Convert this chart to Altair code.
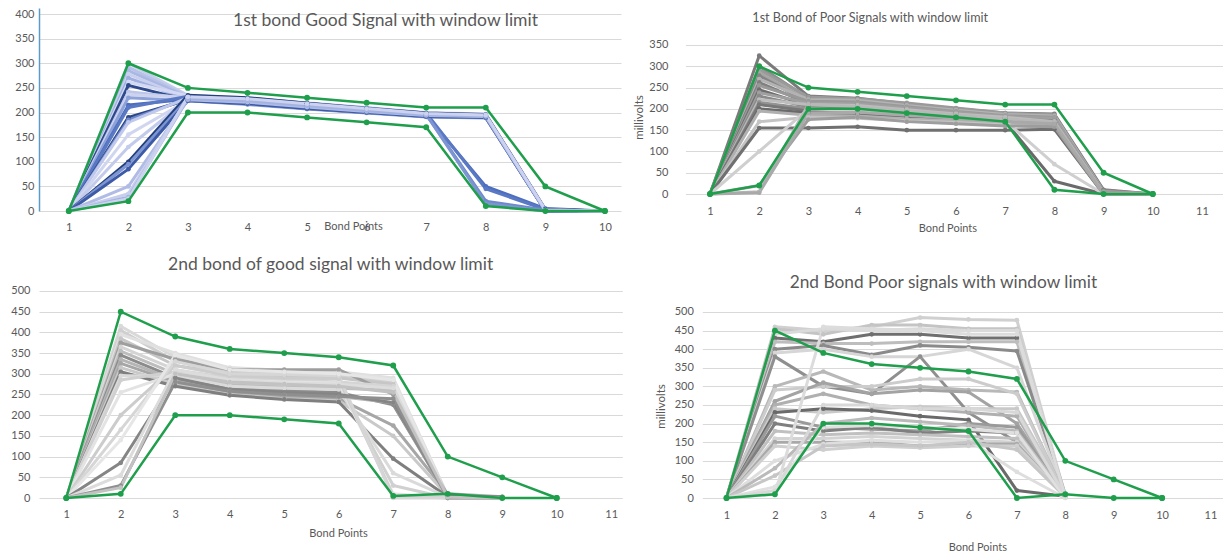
import altair as alt
import pandas as pd

FONT = "Lato"
TXT = "#595959"
GRID = "#d9d9d9"
GREEN = "#1f9e4c"

# ---------------- Panel 1 : 1st bond good signal (blue) ----------------
P1_TITLE = "1st bond Good Signal with window limit"
P1_UPPER = [0, 300, 250, 240, 230, 220, 210, 210, 50, 0]
P1_LOWER = [0, 20, 200, 200, 190, 180, 170, 10, 0, 0]
P1_SERIES = [
    [0, 300, 235, 228, 218, 208, 198, 195, 3, 0],
    [0, 292, 232, 226, 215, 205, 196, 193, 2, 0],
    [0, 285, 230, 224, 214, 204, 195, 192, 2, 0],
    [0, 278, 228, 222, 212, 203, 194, 190, 1, 0],
    [0, 270, 226, 220, 210, 202, 193, 191, 0, 0],
    [0, 262, 234, 230, 220, 210, 200, 197, 4, 0],
    [0, 255, 225, 218, 208, 200, 192, 190, 0, 0],
    [0, 242, 229, 225, 216, 206, 197, 194, 2, 0],
    [0, 236, 231, 227, 217, 207, 198, 196, 3, 0],
    [0, 230, 224, 216, 207, 199, 191, 189, 0, 0],
    [0, 215, 227, 223, 213, 204, 195, 50, 5, 0],
    [0, 210, 233, 229, 219, 209, 199, 45, 3, 0],
    [0, 190, 226, 221, 211, 203, 194, 193, 1, 0],
    [0, 185, 228, 224, 214, 205, 196, 20, 2, 0],
    [0, 180, 230, 226, 216, 206, 197, 195, 2, 0],
    [0, 155, 225, 219, 209, 201, 193, 191, 0, 0],
    [0, 130, 227, 222, 212, 203, 195, 192, 1, 0],
    [0, 100, 235, 230, 219, 208, 199, 196, 3, 0],
    [0, 95, 229, 225, 215, 205, 196, 15, 0, 0],
    [0, 85, 224, 218, 208, 200, 192, 190, 0, 0],
    [0, 50, 226, 221, 211, 202, 194, 192, 1, 0],
    [0, 35, 231, 226, 216, 206, 197, 194, 2, 0],
    [0, 28, 228, 224, 214, 204, 195, 193, 1, 0],
    [0, 25, 232, 228, 218, 208, 198, 195, 2, 0],
]
P1_COLORS = [
    "#c5cdec", "#b7c2e8", "#aab7e3", "#c9d0ee", "#9fb0e0", "#d3d9f2",
    "#2e4a8c", "#bcc6ea", "#cdd3ef", "#8da2d9", "#4d6dbd", "#5a79c4",
    "#2b4685", "#6f89cc", "#c0c9eb", "#d0d6f0", "#c3cbec", "#24407c",
    "#7d95d2", "#3d5aa6", "#b0bce5", "#c7cfed", "#a3b3e1", "#ccd2ef",
]

# ---------------- Panel 2 : 1st bond poor signals (grey) ----------------
P2_TITLE = "1st Bond of Poor  Signals with window limit"
P2_UPPER = [0, 300, 250, 240, 230, 220, 210, 210, 50, 0]
P2_LOWER = [0, 20, 200, 200, 190, 180, 170, 10, 0, 0]
P2_SERIES = [
    [0, 325, 230, 225, 212, 200, 190, 188, 10, 0],
    [0, 300, 225, 222, 210, 198, 188, 185, 8, 0],
    [0, 292, 228, 224, 214, 202, 190, 186, 5, 0],
    [0, 285, 220, 218, 207, 196, 186, 182, 5, 0],
    [0, 278, 215, 212, 203, 193, 183, 180, 3, 0],
    [0, 270, 222, 220, 208, 197, 187, 183, 4, 0],
    [0, 262, 212, 210, 200, 190, 180, 177, 3, 0],
    [0, 255, 218, 216, 205, 194, 184, 180, 2, 0],
    [0, 245, 208, 206, 196, 188, 178, 175, 2, 0],
    [0, 238, 214, 212, 202, 192, 182, 178, 3, 0],
    [0, 230, 205, 203, 194, 186, 176, 172, 1, 0],
    [0, 222, 210, 208, 198, 188, 180, 170, 2, 0],
    [0, 215, 200, 198, 190, 183, 175, 168, 0, 0],
    [0, 210, 195, 193, 186, 180, 172, 165, 0, 0],
    [0, 200, 190, 188, 182, 176, 170, 30, 0, 0],
    [0, 195, 185, 183, 176, 172, 166, 160, 0, 0],
    [0, 170, 180, 178, 172, 168, 162, 155, 0, 0],
    [0, 155, 155, 158, 150, 150, 150, 152, 0, 0],
    [0, 100, 200, 196, 188, 180, 172, 70, 0, 0],
    [0, 20, 175, 180, 170, 165, 160, 158, 0, 0],
    [0, 5, 210, 205, 195, 186, 176, 170, 2, 0],
    [0, 3, 190, 192, 185, 178, 170, 165, 1, 0],
]
P2_COLORS = [
    "#7a7a7a", "#8c8c8c", "#9a9a9a", "#a6a6a6", "#858585", "#b3b3b3",
    "#7f7f7f", "#999999", "#6e6e6e", "#a0a0a0", "#8a8a8a", "#bdbdbd",
    "#939393", "#777777", "#6a6a6a", "#b0b0b0", "#c4c4c4", "#707070",
    "#cfcfcf", "#9d9d9d", "#b8b8b8", "#a9a9a9",
]

# ---------------- Panel 3 : 2nd bond good signal (grey) ----------------
P3_TITLE = "2nd bond of good signal with window limit"
P3_UPPER = [0, 450, 390, 360, 350, 340, 320, 100, 50, 0]
P3_LOWER = [0, 10, 200, 200, 190, 180, 5, 10, 0, 0]
P3_SERIES = [
    [0, 415, 340, 310, 305, 300, 285, 5, 0],
    [0, 405, 330, 305, 300, 295, 280, 3, 0],
    [0, 395, 350, 315, 308, 305, 290, 5, 0],
    [0, 385, 320, 300, 295, 290, 275, 2, 0],
    [0, 375, 335, 310, 310, 310, 250, 5, 0],
    [0, 365, 310, 290, 285, 280, 270, 3, 0],
    [0, 355, 300, 275, 270, 265, 260, 0, 0],
    [0, 345, 290, 265, 260, 255, 225, 5, 2],
    [0, 335, 285, 260, 250, 245, 230, 3, 0],
    [0, 325, 280, 255, 245, 240, 175, 10, 3],
    [0, 315, 275, 250, 240, 235, 150, 5, 0],
    [0, 305, 270, 248, 238, 232, 95, 3, 0],
    [0, 295, 295, 270, 265, 262, 60, 2, 0],
    [0, 285, 305, 280, 275, 272, 30, 0, 0],
    [0, 255, 300, 285, 280, 278, 10, 0, 0],
    [0, 200, 320, 295, 290, 288, 5, 0, 0],
    [0, 165, 330, 300, 298, 295, 0, 0, 0],
    [0, 140, 345, 310, 305, 300, 285, 0, 0],
    [0, 85, 290, 262, 255, 250, 230, 5, 3],
    [0, 55, 310, 285, 278, 275, 265, 0, 0],
    [0, 30, 280, 258, 250, 245, 240, 0, 0],
    [0, 25, 300, 280, 275, 270, 255, 2, 0],
]
P3_COLORS = [
    "#d9d9d9", "#cfcfcf", "#e0e0e0", "#c6c6c6", "#9e9e9e", "#d4d4d4",
    "#bdbdbd", "#8c8c8c", "#b5b5b5", "#a6a6a6", "#c9c9c9", "#7f7f7f",
    "#dadada", "#d0d0d0", "#e3e3e3", "#cccccc", "#d6d6d6", "#e6e6e6",
    "#858585", "#dcdcdc", "#8f8f8f", "#c2c2c2",
]

# ---------------- Panel 4 : 2nd bond poor signals (grey) ----------------
P4_TITLE = "2nd Bond Poor signals with window limit"
P4_UPPER = [0, 450, 390, 360, 350, 340, 320, 100, 50, 0]
P4_LOWER = [0, 10, 200, 200, 190, 180, 0, 10, 0, 0]
P4_SERIES = [
    [0, 460, 450, 460, 485, 480, 478, 5],
    [0, 455, 440, 465, 465, 455, 455, 3],
    [0, 440, 455, 450, 455, 450, 450, 8],
    [0, 430, 420, 440, 440, 430, 430, 5],
    [0, 420, 415, 415, 420, 420, 420, 10],
    [0, 400, 410, 385, 410, 405, 395, 5],
    [0, 390, 400, 380, 380, 400, 350, 3],
    [0, 380, 300, 280, 380, 230, 150, 5],
    [0, 300, 340, 290, 300, 290, 285, 5],
    [0, 290, 300, 300, 320, 320, 280, 3],
    [0, 260, 310, 280, 290, 285, 200, 8],
    [0, 250, 280, 250, 240, 230, 220, 3],
    [0, 240, 230, 240, 245, 240, 240, 10],
    [0, 230, 240, 235, 220, 210, 20, 5],
    [0, 220, 190, 185, 180, 200, 190, 5],
    [0, 200, 180, 190, 175, 180, 175, 5],
    [0, 180, 170, 175, 170, 165, 160, 3],
    [0, 160, 160, 165, 160, 155, 150, 5],
    [0, 150, 150, 150, 140, 145, 145, 3],
    [0, 140, 130, 140, 135, 140, 140, 5],
    [0, 100, 145, 155, 150, 155, 70, 0],
    [0, 80, 200, 215, 205, 195, 180, 8],
    [0, 60, 140, 145, 140, 150, 130, 3],
    [0, 30, 190, 195, 190, 185, 175, 0],
    [0, 20, 250, 250, 240, 240, 230, 5],
    [0, 10, 460, 455, 450, 440, 440, 5],
]
P4_COLORS = [
    "#d0d0d0", "#c4c4c4", "#dadada", "#6f6f6f", "#bdbdbd", "#8a8a8a",
    "#d6d6d6", "#8f8f8f", "#b8b8b8", "#cccccc", "#a3a3a3", "#b0b0b0",
    "#c9c9c9", "#6a6a6a", "#9a9a9a", "#7f7f7f", "#c0c0c0", "#d3d3d3",
    "#a9a9a9", "#cfcfcf", "#dedede", "#bababa", "#c6c6c6", "#e0e0e0",
    "#d8d8d8", "#dcdcdc",
]


def series_frame(series, colors):
    rows = []
    for i, (vals, col) in enumerate(zip(series, colors)):
        for j, v in enumerate(vals):
            rows.append({"s": i, "x": j + 1, "y": v, "c": col})
    return pd.DataFrame(rows)


def limit_frame(upper, lower):
    rows = []
    for name, vals in (("upper", upper), ("lower", lower)):
        for j, v in enumerate(vals):
            rows.append({"s": name, "x": j + 1, "y": v})
    return pd.DataFrame(rows)


def panel(series, colors, upper, lower, *, w, h, xmax, ymax, title, xaxis, yaxis):
    df = series_frame(series, colors)
    lim = limit_frame(upper, lower)
    x = alt.X("x:Q", scale=alt.Scale(domain=[0.5, xmax], nice=False, zero=False), axis=xaxis)
    y = alt.Y("y:Q", scale=alt.Scale(domain=[0, ymax], nice=False, zero=True), axis=yaxis)
    lines = alt.Chart(df).mark_line(strokeWidth=3, strokeJoin="round").encode(
        x=x, y=y, color=alt.Color("c:N", scale=None), detail="s:N", order="x:Q")
    pts = alt.Chart(df).mark_circle(size=22, opacity=1).encode(
        x=x, y=y, color=alt.Color("c:N", scale=None))
    glines = alt.Chart(lim).mark_line(strokeWidth=2.5, color=GREEN).encode(
        x=x, y=y, detail="s:N", order="x:Q")
    gpts = alt.Chart(lim).mark_circle(size=34, opacity=1, color=GREEN).encode(x=x, y=y)
    return alt.layer(lines, pts, glines, gpts).properties(width=w, height=h, title=title)


def x_axis(nlab, label_pad, title_pad, **kw):
    return alt.Axis(values=list(range(1, nlab + 1)), format="d", grid=False, domain=False,
                    ticks=False, tickSize=0, labelPadding=label_pad, labelFontSize=11,
                    labelColor=TXT, labelFont=FONT, labelOverlap=False,
                    title="Bond Points", titleFontSize=11,
                    titleColor=TXT, titleFont=FONT, titleFontWeight="normal",
                    titlePadding=title_pad, **kw)


def y_axis(ylab_max, label_pad, min_ext, title=None, title_pad=2, **kw):
    args = dict(values=list(range(0, ylab_max + 1, 50)), grid=True, gridColor=GRID,
                gridWidth=1, ticks=False, tickSize=0, labelPadding=label_pad,
                labelFontSize=11, labelColor=TXT, labelFont=FONT, labelOverlap=False,
                minExtent=min_ext, maxExtent=min_ext)
    if title:
        args.update(title=title, titleFontSize=11.5, titleColor=TXT, titleFont=FONT,
                    titleFontWeight="normal", titlePadding=title_pad)
    else:
        args.update(title=None)
    args.update(kw)
    return alt.Axis(**args)


def ttl(text, size, offset, dx):
    return alt.TitleParams(text=text, fontSize=size, font=FONT, fontWeight="normal",
                           color=TXT, offset=offset, dx=dx, anchor="middle")


p1 = panel(P1_SERIES, P1_COLORS, P1_UPPER, P1_LOWER, w=582, h=203, xmax=10.27, ymax=412.2,
           title=ttl(P1_TITLE, 17.5, -21, 55.5),
           xaxis=x_axis(10, 10, 0, titleX=314, titleY=15, titleBaseline="middle"),
           yaxis=y_axis(400, 5, 30, domain=True, domainColor="#5b9bc8", domainWidth=1.5))

p2 = panel(P2_SERIES, P2_COLORS, P2_UPPER, P2_LOWER, w=537.6, h=186, xmax=11.427, ymax=436.9,
           title=ttl(P2_TITLE, 12.6, -16.5, -84),
           xaxis=x_axis(11, 11, 6, titleX=262),
           yaxis=y_axis(350, 17.5, 36.5, title="millivolts", title_pad=4, titleY=109,
                        domain=False))

p3 = panel(P3_SERIES, P3_COLORS, P3_UPPER, P3_LOWER, w=583.25, h=241, xmax=11.202, ymax=582.1,
           title=ttl(P3_TITLE, 17.5, -16.5, 0),
           xaxis=x_axis(11, 10, 8, titleX=299),
           yaxis=y_axis(500, 9, 30.75, domain=False))

p4 = panel(P4_SERIES, P4_COLORS, P4_UPPER, P4_LOWER, w=520.2, h=241, xmax=11.248, ymax=647.8,
           title=ttl(P4_TITLE, 17.3, -34.5, -19),
           xaxis=x_axis(11, 11, 21, titleX=275),
           yaxis=y_axis(500, 9, 28, title="millivolts", title_pad=8, titleY=149,
                        domain=False))

row1 = alt.concat(p1, p2, spacing=12.4, align="none", bounds="full")
row2 = alt.concat(p3, p4, spacing=32.3, align="none", bounds="full")

chart = alt.vconcat(row1, row2, spacing=23).properties(
    padding={"top": 0, "left": 0, "right": 0, "bottom": 0}, background="white"
).configure_view(stroke=None)

chart.save("out.html", embed_options={"renderer": "svg", "actions": False})
